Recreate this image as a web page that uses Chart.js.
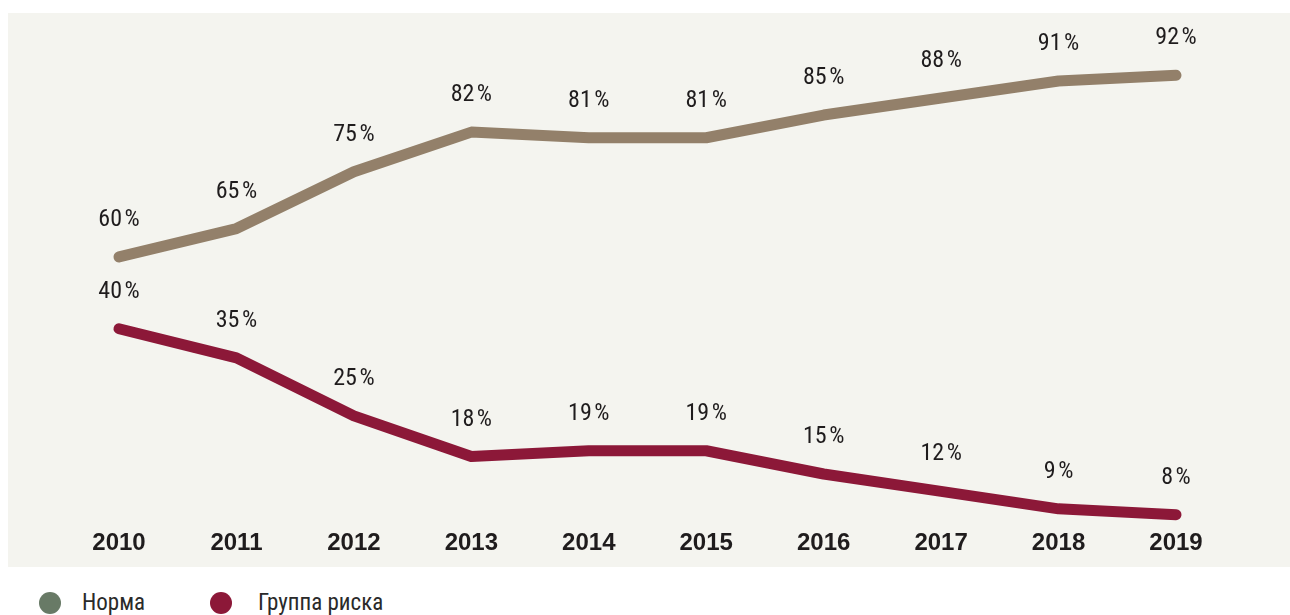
<!DOCTYPE html>
<html>
<head>
<meta charset="utf-8">
<script src="https://cdn.jsdelivr.net/npm/chart.js@4"></script>
<style>
  html, body { margin: 0; padding: 0; background: #fff; }
  body { width: 1290px; height: 615px; position: relative; overflow: hidden; }
  #panel { position: absolute; left: 8px; top: 13px; width: 1282px; height: 554px; background: #f4f4ef; }
  #legend { position: absolute; left: 0; top: 590px; width: 600px; height: 26px; font-family: "Liberation Sans Narrow", "Roboto Condensed", "DejaVu Sans Condensed", sans-serif; font-size: 23px; color: #2a2a2a; }
  .dot { position: absolute; top: 2px; width: 22px; height: 22px; border-radius: 50%; }
  .txt { position: absolute; top: 0; line-height: 26px; white-space: nowrap; }
</style>
</head>
<body>
<div id="panel"><canvas id="graf" width="1282" height="554"></canvas></div>
<div id="legend"></div>
<script>
// Data
const roky = ['2010', '2011', '2012', '2013', '2014', '2015', '2016', '2017', '2018', '2019'];
const norma = [60, 65, 75, 82, 81, 81, 85, 88, 91, 92];
const riziko = [40, 35, 25, 18, 19, 19, 15, 12, 9, 8];
const nazvy = ['Норма', 'Группа риска'];

// Barvy
const barvaNorma = '#93806a';
const barvaRiziko = '#8c1838';
const barvaLegendaNorma = '#687a66';
const pismoUzke = '"Liberation Sans Narrow", "Roboto Condensed", "DejaVu Sans Condensed", sans-serif';

// Popisky hodnot nad body
const popiskyPlugin = {
  id: 'popisky',
  afterDatasetsDraw(chart) {
    const ctx = chart.ctx;
    ctx.save();
    ctx.font = '24px ' + pismoUzke;
    ctx.fillStyle = '#1f1c1d';
    ctx.textAlign = 'center';
    ctx.textBaseline = 'middle';
    chart.data.datasets.forEach((ds, i) => {
      chart.getDatasetMeta(i).data.forEach((pt, j) => {
        ctx.fillText(ds.data[j] + '\u200a%', pt.x, pt.y - 37);
      });
    });
    ctx.restore();
  }
};

new Chart(document.getElementById('graf').getContext('2d'), {
  type: 'line',
  data: {
    labels: roky,
    datasets: [{
      label: nazvy[0],
      data: norma,
      yAxisID: 'yNorma',
      borderColor: barvaNorma,
      borderWidth: 11,
      borderCapStyle: 'round',
      borderJoinStyle: 'round',
      pointRadius: 0,
      tension: 0,
      fill: false,
      clip: false
    }, {
      label: nazvy[1],
      data: riziko,
      yAxisID: 'y',
      borderColor: barvaRiziko,
      borderWidth: 11,
      borderCapStyle: 'round',
      borderJoinStyle: 'round',
      pointRadius: 0,
      tension: 0,
      fill: false,
      clip: false
    }]
  },
  options: {
    responsive: false,
    animation: false,
    layout: { padding: { left: 111, right: 114, top: 20, bottom: 1 } },
    plugins: { legend: { display: false }, tooltip: { enabled: false } },
    scales: {
      x: {
        grid: { display: false },
        border: { display: false },
        ticks: {
          color: '#1f1c1d', padding: 8, maxRotation: 0, autoSkip: false,
          font: { family: '"Liberation Sans", Arial, sans-serif', size: 24, weight: 'bold' }
        }
      },
      y: { display: false, min: 8.25, max: 90.92 },
      yNorma: { display: false, min: 14.85, max: 99.46 }
    }
  },
  plugins: [popiskyPlugin]
});

// Legenda
const legenda = document.getElementById('legend');
[[nazvy[0], barvaLegendaNorma, 39, 82], [nazvy[1], barvaRiziko, 210, 258]].forEach(([text, barva, xDot, xTxt]) => {
  const d = document.createElement('div');
  d.className = 'dot';
  d.style.left = xDot + 'px';
  d.style.background = barva;
  legenda.appendChild(d);
  const t = document.createElement('div');
  t.className = 'txt';
  t.style.left = xTxt + 'px';
  t.textContent = text;
  legenda.appendChild(t);
});
</script>
</body>
</html>
